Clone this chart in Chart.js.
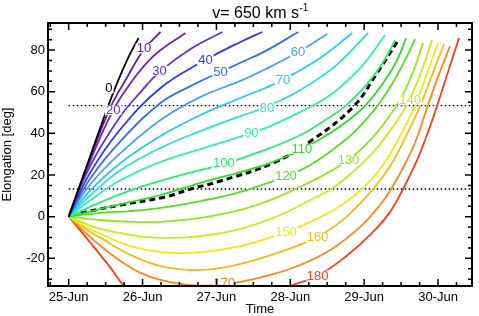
<!DOCTYPE html>
<html>
<head>
<meta charset="utf-8">
<script src="https://cdn.jsdelivr.net/npm/chart.js@4.4.0/dist/chart.umd.min.js"></script>
<style>
  html, body { margin: 0; padding: 0; background: #fff; }
</style>
</head>
<body>
<canvas id="chJmap" width="479" height="316"></canvas>
<script>
// elongation vs time for each propagation direction, v = 650 km/s
// x = days after 25-Jun 00:00, y = elongation [deg]

var directions = [0, 10, 20, 30, 40, 50, 60, 70, 80, 90, 100, 110, 120, 130, 140, 150, 160, 170, 180];

var track000 = [[0, 0], [0.297, 29.6], [0.5, 49.8], [0.662, 64.7], [0.811, 76.7], [0.946, 85.8]];
var track010 = [[0, 0], [0.297, 28.7], [0.568, 52.7], [0.770, 65.6], [1.014, 80.0], [1.243, 88.7]];
var track020 = [[0, 0], [0.297, 27.2], [0.595, 50.7], [0.838, 64.2], [1.041, 73.3], [1.243, 80.0], [1.581, 88.2]];
var track030 = [[0, 0], [0.297, 24.8], [0.703, 48.3], [0.973, 59.8], [1.23, 69.5], [1.649, 80.5], [2.081, 88.7]];
var track040 = [[0, 0], [0.297, 21.5], [0.703, 42.1], [1.243, 61.8], [1.851, 75.2], [2.324, 83.9], [2.622, 88.7]];
var track050 = [[0, 0], [0.297, 18.6], [0.703, 36.3], [1.243, 54.6], [1.649, 62.7], [2.054, 69.5], [2.324, 73.9], [2.662, 79.5], [3.108, 88.7]];
var track060 = [[0, 0], [0.297, 15.7], [0.703, 30.6], [1.243, 46.4], [1.784, 57.5], [2.324, 65.2], [2.662, 70.8], [3.108, 79.1], [3.5, 87.7]];
var track070 = [[0, 0], [0.297, 12.8], [0.703, 25.8], [1.243, 38.7], [1.784, 48.8], [2.324, 57.0], [2.662, 61.8], [2.892, 65.6], [3.405, 76.2], [3.838, 88.2]];
var track080 = [[0, 0], [0.297, 10.4], [0.703, 22.4], [1.243, 33.0], [1.784, 41.1], [2.324, 48.3], [2.676, 52.7], [3.135, 60.8], [3.608, 72.3], [4.054, 88.2]];
var track090 = [[0, 0], [0.297, 8.0], [0.703, 17.6], [1.243, 26.3], [2.054, 35.4], [2.473, 40.2], [2.73, 43.5], [3.135, 50.3], [3.541, 58.4], [3.946, 71.4], [4.284, 87.2]];
var track100 = [[0, 0], [0.432, 7.0], [0.838, 12.6], [1.243, 17.2], [1.649, 21.2], [2.095, 25.2], [2.73, 33.0], [3.135, 39.2], [3.473, 46.4], [3.743, 53.1], [4.014, 62.7], [4.243, 73.3], [4.419, 84.8]];
var track110 = [[0, 0], [0.432, 3.7], [0.838, 7.1], [1.243, 10.4], [1.784, 16.2], [2.324, 21.4], [2.73, 25.8], [3.162, 32.5], [3.541, 40.2], [3.878, 48.8], [4.081, 56.0], [4.284, 65.6], [4.446, 75.2], [4.568, 85.8]];
var track120 = [[0, 0], [0.432, 1.8], [0.838, 2.7], [1.243, 4.2], [1.784, 7.5], [2.324, 11.9], [2.946, 19.5], [3.27, 24.8], [3.568, 32.0], [3.878, 41.1], [4.176, 53.1], [4.392, 64.7], [4.554, 75.2], [4.689, 85.3]];
var track130 = [[0, 0], [0.432, -1.6], [0.838, -2.5], [1.243, -2.5], [1.784, -0.6], [2.324, 3.2], [2.73, 8.0], [3.068, 13.3], [3.405, 19.1], [3.784, 27.2], [4.081, 36.8], [4.324, 47.4], [4.514, 57.9], [4.662, 69.5], [4.797, 83.4]];
var track140 = [[0, 0], [0.23, -3.5], [0.432, -5.9], [0.838, -8.8], [1.243, -10.2], [1.784, -9.3], [2.324, -5.9], [2.865, 0.8], [3.27, 8.0], [3.554, 13.3], [3.878, 22.4], [4.149, 32.0], [4.378, 42.6], [4.568, 53.1], [4.757, 68.0], [4.919, 84.8]];
var track150 = [[0, 0], [0.23, -5.0], [0.432, -8.3], [0.838, -14.1], [1.243, -16.9], [1.649, -17.4], [2.324, -14.1], [2.946, -7.3], [3.27, -2.5], [3.608, 3.7], [3.973, 13.3], [4.216, 22.9], [4.459, 36.8], [4.676, 52.2], [4.838, 67.5], [5.0, 83.4]];
var track160 = [[0, 0], [0.23, -5.9], [0.432, -10.2], [0.838, -18.4], [1.243, -23.7], [1.784, -25.6], [2.324, -22.7], [2.865, -16.9], [3.365, -9.7], [3.743, -0.6], [4.122, 13.3], [4.351, 24.3], [4.554, 37.8], [4.757, 53.1], [4.919, 68.0], [5.081, 82.9]];
var track170 = [[0, 0], [0.23, -7.8], [0.432, -14.1], [0.703, -21.3], [0.973, -27.0], [1.243, -30.4], [1.608, -32.8], [1.919, -33.0], [2.324, -31.3], [2.73, -28.0], [3.135, -23.2], [3.541, -16.0], [3.946, -4.9], [4.216, 5.6], [4.365, 13.3], [4.554, 25.3], [4.703, 36.8], [4.851, 52.2], [5.0, 67.1], [5.162, 81.9]];
var track180 = [[0, 0], [0.162, -6.8], [0.365, -15.6], [0.568, -24.6], [0.743, -33.0], [1.0, -40], [1.5, -45], [2.0, -45.5], [2.5, -41], [2.8, -36.5], [3.0, -33.3], [3.365, -28.5], [3.743, -19.4], [4.108, -7.8], [4.351, 2.3], [4.527, 13.3], [4.716, 27.2], [4.865, 40.7], [4.986, 53.1], [5.135, 69.5], [5.284, 85.8]];

// measured track (dashed)
var trackObs = [[0.162, 1.8], [0.703, 5.6], [1.311, 9.5], [1.649, 13.3], [2.054, 17.1], [2.77, 25.8], [3.297, 36.8], [3.851, 52.7], [4.176, 69.0], [4.446, 83.9]];

var tracks = [track000, track010, track020, track030, track040, track050, track060, track070, track080, track090,
              track100, track110, track120, track130, track140, track150, track160, track170, track180];

// where each direction label sits on its curve
var labelDays  = [0.545, 1.018, 0.604, 1.23, 1.851, 2.054, 3.104, 2.901, 2.685, 2.473, 2.101, 3.158, 2.942, 3.788, 4.622, 2.942, 3.369, 2.108, 3.369];
var labelElong = [61.6, 80.8, 51.2, 70.1, 75.2, 69.6, 79.2, 65.6, 52.0, 40.0, 26.0, 32.5, 19.5, 27.2, 56.0, -7.2, -9.9, -32.0, -28.3];

// horizontal dotted reference elongations
var refElong = [53.3, 13.3];
var refStart = 0, refEnd = 5.46;

// axes
var xTicks = [0, 1, 2, 3, 4, 5];
var xTickLabels = ['25-Jun', '26-Jun', '27-Jun', '28-Jun', '29-Jun', '30-Jun'];
var yTicks = [-20, 0, 20, 40, 60, 80];
var xMin = -0.28, xMax = 5.46, yMin = -33.3, yMax = 93;

// rainbow colours, 0 -> 180 deg
var colors = ['#000000', '#6a1a96', '#7a22b0', '#6030dc', '#2a3ae8', '#3470f0', '#48a2f2', '#2cc8f6', '#28e2dc',
              '#30f0b0', '#2aee70', '#2ade2a', '#56e020', '#92e81c', '#c4ee16', '#f2ea10', '#f8ba1a', '#f88a1c', '#f84018'];

var FONT = '"Liberation Sans", Arial, Helvetica, sans-serif';

var datasets = [];
tracks.forEach(function (t, i) {
    datasets.push({
        data: t.map(function (p) { return { x: p[0], y: p[1] }; }),
        borderColor: colors[i],
        borderWidth: 1.8,
        pointRadius: 0,
        fill: false,
        tension: 0.4
    });
});
datasets.push({
    data: trackObs.map(function (p) { return { x: p[0], y: p[1] }; }),
    borderColor: '#000',
    borderWidth: 3,
    borderDash: [6, 4],
    pointRadius: 0,
    fill: false,
    tension: 0.4
});
refElong.forEach(function (e) {
    datasets.push({
        data: [{ x: refStart, y: e }, { x: refEnd, y: e }],
        borderColor: '#000',
        borderWidth: 1.4,
        borderDash: [1.5, 2.5],
        pointRadius: 0,
        fill: false
    });
});

// IDL style frame: box, inward ticks, curve labels, titles
var idlFrame = {
    id: 'idlFrame',
    afterDatasetsDraw: function (chart) {
        var ctx = chart.ctx, a = chart.chartArea;
        var xs = chart.scales.x, ys = chart.scales.y;

        // curve labels
        ctx.save();
        ctx.font = '13px ' + FONT;
        ctx.textAlign = 'center';
        ctx.textBaseline = 'middle';
        directions.forEach(function (d, i) {
            var px = xs.getPixelForValue(labelDays[i]);
            var py = ys.getPixelForValue(labelElong[i]);
            var w = ctx.measureText(String(d)).width;
            ctx.fillStyle = '#fff';
            ctx.fillRect(px - w / 2 - 1, py - 5, w + 2, 10);
            ctx.fillStyle = colors[i];
            ctx.fillText(String(d), px, py + 0.5);
        });
        ctx.restore();

        // ticks
        ctx.save();
        ctx.strokeStyle = '#000';
        ctx.lineWidth = 1.5;
        ctx.beginPath();
        var v, p, len;
        for (v = -0.25; v <= xMax; v += 0.25) {
            p = xs.getPixelForValue(v);
            if (p <= a.left + 1 || p >= a.right - 1) continue;
            len = Math.abs(v - Math.round(v)) < 1e-6 ? 7 : 4;
            ctx.moveTo(p, a.bottom); ctx.lineTo(p, a.bottom - len);
            ctx.moveTo(p, a.top); ctx.lineTo(p, a.top + len);
        }
        for (v = -30; v <= yMax; v += 5) {
            p = ys.getPixelForValue(v);
            if (p >= a.bottom - 1 || p <= a.top + 1) continue;
            len = (v % 20 === 0) ? 7 : 4;
            ctx.moveTo(a.left, p); ctx.lineTo(a.left + len, p);
            ctx.moveTo(a.right, p); ctx.lineTo(a.right - len, p);
        }
        ctx.stroke();
        ctx.lineWidth = 2;
        ctx.strokeRect(a.left, a.top, a.right - a.left, a.bottom - a.top);
        ctx.restore();
    },
    afterDraw: function (chart) {
        var ctx = chart.ctx, a = chart.chartArea;
        var cx = (a.left + a.right) / 2, cy = (a.top + a.bottom) / 2;
        ctx.save();
        ctx.fillStyle = '#000';
        // title with superscript
        ctx.font = '16px ' + FONT;
        var main = 'v= 650 km s';
        var w1 = ctx.measureText(main).width;
        ctx.font = '10px ' + FONT;
        var w2 = ctx.measureText('-1').width;
        var x0 = cx - (w1 + w2) / 2;
        ctx.textBaseline = 'alphabetic';
        ctx.textAlign = 'left';
        ctx.font = '16px ' + FONT;
        ctx.fillText(main, x0, 18);
        ctx.font = '10px ' + FONT;
        ctx.fillText('-1', x0 + w1 + 0.5, 11);
        // axis titles
        ctx.font = '13px ' + FONT;
        ctx.textAlign = 'center';
        ctx.fillText('Time', cx, 313);
        ctx.translate(11, cy);
        ctx.rotate(-Math.PI / 2);
        ctx.fillText('Elongation [deg]', 0, 0);
        ctx.restore();
    }
};

var chJmap = document.getElementById('chJmap');
new Chart(chJmap, {
    type: 'line',
    data: { datasets: datasets },
    plugins: [idlFrame],
    options: {
        responsive: false,
        animation: false,
        devicePixelRatio: 1,
        layout: { padding: { top: 23, right: 7, left: 0, bottom: 0 } },
        plugins: { legend: { display: false }, tooltip: { enabled: false } },
        scales: {
            x: {
                type: 'linear',
                min: xMin,
                max: xMax,
                grid: { display: false, drawTicks: false, tickLength: 0 },
                border: { display: false },
                afterBuildTicks: function (s) { s.ticks = xTicks.map(function (t) { return { value: t }; }); },
                afterFit: function (s) { s.height = 30; },
                ticks: {
                    autoSkip: false,
                    maxRotation: 0,
                    padding: 4,
                    color: '#000',
                    font: { family: FONT, size: 13 },
                    callback: function (val) { var i = xTicks.indexOf(val); return i >= 0 ? xTickLabels[i] : ''; }
                }
            },
            y: {
                min: yMin,
                max: yMax,
                grid: { display: false, drawTicks: false, tickLength: 0 },
                border: { display: false },
                afterBuildTicks: function (s) { s.ticks = yTicks.map(function (t) { return { value: t }; }); },
                afterFit: function (s) { s.width = 48; },
                ticks: {
                    autoSkip: false,
                    padding: 3,
                    color: '#000',
                    font: { family: FONT, size: 13 }
                }
            }
        }
    }
});
</script>
</body>
</html>
